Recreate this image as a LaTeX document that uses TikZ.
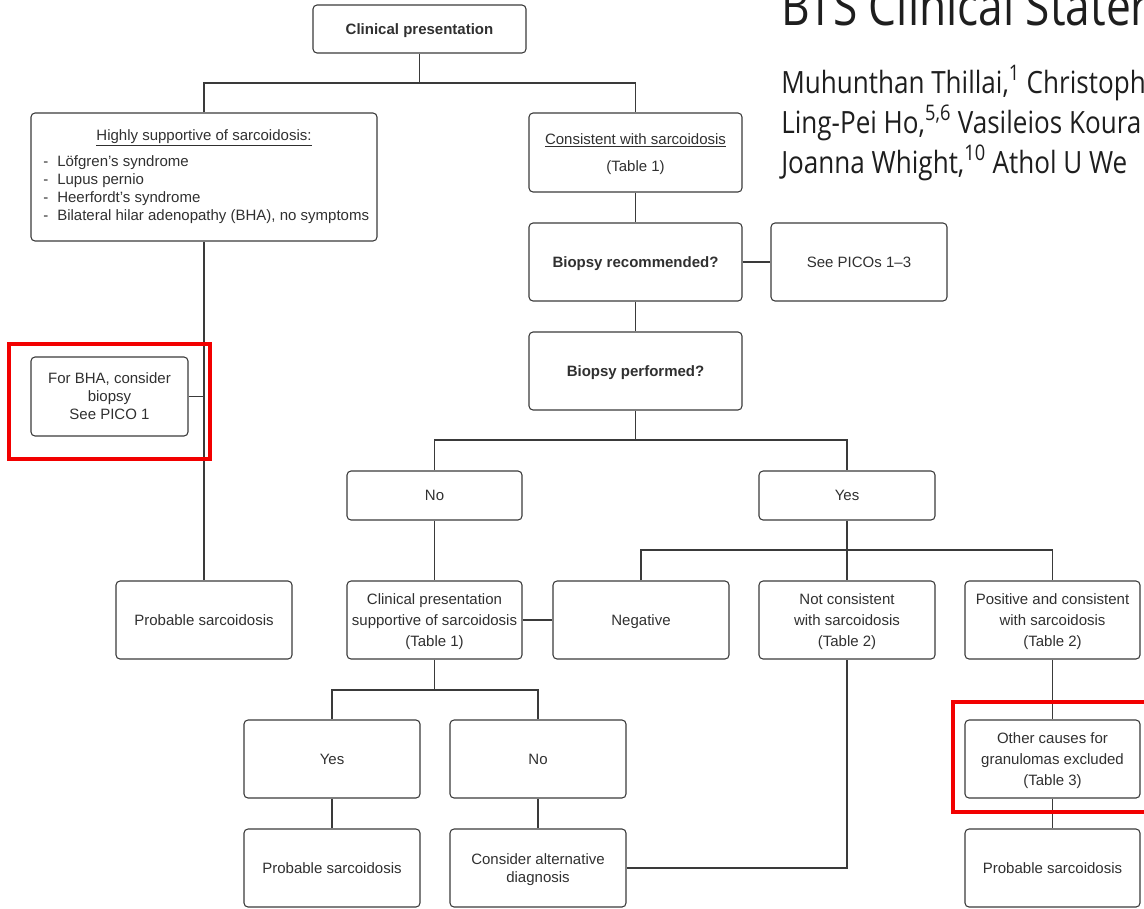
\documentclass[tikz,border=0pt]{standalone}
\usepackage{fontspec}
\usepackage{graphicx}
\setmainfont{Liberation Sans}
\newfontfamily\authfont{Open Sans}
\definecolor{ink}{HTML}{303030}
\definecolor{rule}{HTML}{3A3A3A}
\definecolor{markred}{HTML}{F20000}
\definecolor{headink}{HTML}{1E1E1E}

\begin{document}
\begin{tikzpicture}[x=0.75pt,y=-0.75pt,
  box/.style={draw=rule, line width=0.8pt, rounded corners=3pt, inner sep=0pt,
              align=center, text=ink, text depth=0pt,
              font=\fontsize{11.25}{13.5}\selectfont},
  cell/.style 2 args={minimum width=#1*0.75pt, minimum height=#2*0.75pt},
  wide/.style={font=\fontsize{11.25}{16}\selectfont},
  link/.style={draw=rule, line width=0.8pt},
  markbox/.style={draw=markred, line width=3pt},
  txt/.style={text=ink, inner sep=0pt, font=\fontsize{11.25}{13.5}\selectfont},
  head/.style={anchor=base west, inner sep=0pt, text=headink}]

\useasboundingbox (0,0) rectangle (1144,908);
\clip (0,0) rectangle (1144,908);

% ---- heading block of the article
\begin{scope}
  \clip (775,0) rectangle (1144,180);
  \node[head] (title) at (781,25)
    {\authfont\fontsize{40}{48}\selectfont\scalebox{0.83}[1]{BTS Clinical Stater}};
  \node[head] (auth1) at (781,93)
    {\authfont\fontsize{23}{28}\selectfont\scalebox{0.85}[1]{Muhunthan Thillai,\textsuperscript{1} Christoph}};
  \node[head] (auth2) at (781,133)
    {\authfont\fontsize{23}{28}\selectfont\scalebox{0.85}[1]{Ling-Pei Ho,\textsuperscript{5,6} Vasileios Koura}};
  \node[head] (auth3) at (781,173)
    {\authfont\fontsize{23}{28}\selectfont\scalebox{0.85}[1]{Joanna Whight,\textsuperscript{10} Athol U We}};
\end{scope}

% ---- boxes
\node[box, cell={213}{48}] (cp) at (419.5,29) {\textbf{Clinical presentation}};
\node[box, cell={346}{128}] (hs) at (204,177) {};
\node[txt] (hshead) at (204,138) {\underline{Highly supportive of sarcoidosis:}};
\node[txt, anchor=west, align=left] (hslist) at (43,189.5)
  {\makebox[10.5pt][l]{-}Löfgren’s syndrome\\
   \makebox[10.5pt][l]{-}Lupus pernio\\
   \makebox[10.5pt][l]{-}Heerfordt’s syndrome\\
   \makebox[10.5pt][l]{-}Bilateral hilar adenopathy (BHA), no symptoms};
\node[box, cell={213}{79}] (cs) at (635.5,152.5) {\underline{Consistent with sarcoidosis}\\[6.5pt](Table 1)};
\node[box, cell={213}{78}] (br) at (635.5,262) {\textbf{Biopsy recommended?}};
\node[box, cell={176}{78}] (pico) at (859,262) {See PICOs 1–3};
\node[box, cell={213}{78}] (bp) at (635.5,371) {\textbf{Biopsy performed?}};
\node[box, cell={157}{79}] (bha) at (109.5,396.5) {For BHA, consider\\biopsy\\See PICO 1};
\node[box, cell={175}{49}] (no1) at (434.5,495.5) {No};
\node[box, cell={176}{49}] (yes1) at (847,495.5) {Yes};
\node[box, cell={176}{78}] (ps1) at (204,620) {Probable sarcoidosis};
\node[box, wide, cell={175}{78}] (cps) at (434.5,620) {Clinical presentation\\supportive of sarcoidosis\\(Table 1)};
\node[box, cell={176}{78}] (neg) at (641,620) {Negative};
\node[box, wide, cell={176}{78}] (nc) at (847,620) {Not consistent\\with sarcoidosis\\(Table 2)};
\node[box, wide, cell={175}{78}] (pos) at (1052.5,620) {Positive and consistent\\with sarcoidosis\\(Table 2)};
\node[box, cell={176}{78}] (yes2) at (332,759) {Yes};
\node[box, cell={176}{78}] (no2) at (538,759) {No};
\node[box, wide, cell={175}{78}] (oc) at (1052.5,759) {Other causes for\\granulomas excluded\\(Table 3)};
\node[box, cell={176}{78}] (ps2) at (332,868) {Probable sarcoidosis};
\node[box, cell={176}{78}] (alt) at (538,868) {Consider alternative\\diagnosis};
\node[box, cell={175}{78}] (ps3) at (1052.5,868) {Probable sarcoidosis};

% ---- junction points
\coordinate (j1) at (419.5,83);
\coordinate (j2) at (635.5,440);
\coordinate (j3) at (847,550);
\coordinate (j4) at (434.5,690);

% ---- connectors
\draw[link] (cp.south) -- (j1);
\draw[link] (hs.north) |- (j1) -| (cs.north);
\draw[link] (cs.south) -- (br.north);
\draw[link] (br.east) -- (pico.west);
\draw[link] (br.south) -- (bp.north);
\draw[link] (bp.south) -- (j2);
\draw[link] (no1.north) |- (j2) -| (yes1.north);
\draw[link] (hs.south) -- (ps1.north);
\draw[link] (bha.east) -- (bha.east -| hs.south);
\draw[link] (no1.south) -- (cps.north);
\draw[link] (yes1.south) -- (j3);
\draw[link] (neg.north) |- (j3) -| (pos.north);
\draw[link] (j3) -- (nc.north);
\draw[link] (cps.east) -- (neg.west);
\draw[link] (cps.south) -- (j4);
\draw[link] (yes2.north) |- (j4) -| (no2.north);
\draw[link] (yes2.south) -- (ps2.north);
\draw[link] (no2.south) -- (alt.north);
\draw[link] (alt.east) -| (nc.south);
\draw[link] (pos.south) -- (oc.north);
\draw[link] (oc.south) -- (ps3.north);

% ---- red highlight frames
\draw[markbox] (9,344) rectangle (210,459);
\draw[markbox] (953,702) rectangle (1152,812);
\end{tikzpicture}
\end{document}
